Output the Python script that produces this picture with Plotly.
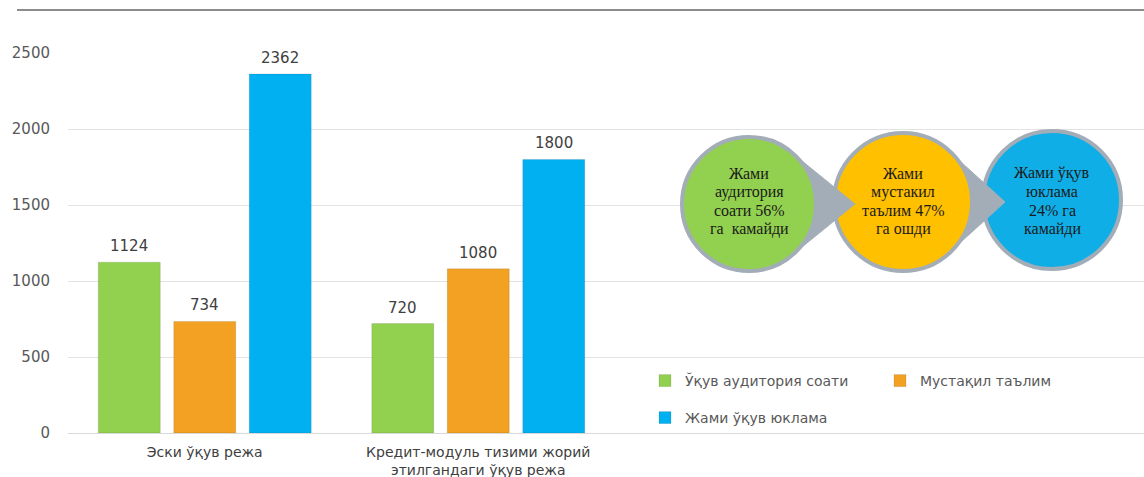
import math
import plotly.graph_objects as go

categories = ["Эски ўқув режа", "Кредит-модуль тизими жорий<br>этилгандаги ўқув режа", " ", "  "]
series_names = ["Ўқув аудитория соати", "Мустақил таълим", "Жами ўқув юклама"]
auditoria = [1124, 720, None, None]
mustaqil = [734, 1080, None, None]
jami = [2362, 1800, None, None]
colors = ["#92D050", "#F2A122", "#00B0F0"]
legend_ids = ["legend", "legend", "legend2"]
circle_lines = [["Жами", "аудитория", "соати 56%", "га  камайди"],
                ["Жами", "мустакил", "таълим 47%", "га ошди"],
                ["Жами ўқув", "юклама", "24% га", "камайди"]]
circle_colors = ["#92D050", "#FFC000", "#10AEE6"]

FONT = "DejaVu Sans, Liberation Sans, Arial"
W, H = 1144, 477
ml, mr, mt, mb = 68, 0, 53, 44
slot_px = 75.5

fig = go.Figure()
annotations = []
for k, (name, vals, c, lg) in enumerate(zip(series_names, [auditoria, mustaqil, jami], colors, legend_ids)):
    fig.add_trace(go.Bar(
        x=categories, y=vals, name=name, legend=lg,
        marker=dict(color=c, line=dict(color="rgba(0,0,0,0.10)", width=1)),
    ))
    for cat, v in zip(categories, vals):
        if v is None:
            continue
        annotations.append(dict(x=cat, y=v, xref="x", yref="y", text=str(v), showarrow=False,
                                xshift=(k - 1) * slot_px, yshift=16, yanchor="middle",
                                font=dict(size=15, color="#404040", family=FONT)))


def px(x):
    return (x - ml) / (W - ml - mr)


def py(y):
    return (H - mb - y) / (H - mt - mb)


shapes = [dict(type="line", xref="paper", yref="paper", x0=px(17), x1=px(1144),
               y0=py(10), y1=py(10), line=dict(color="#8C8C8C", width=2))]
centers = [(749, 204), (903, 202), (1052, 200)]
radii = [67, 69, 69]
tip_dist = [106, 102, 100]
gray = "#A3ADB8"
circ_shapes = []
tail_shapes = []
for (cx, cy), r, d, col in zip(centers, radii, tip_dist, circle_colors):
    circ_shapes.append(dict(type="circle", xref="paper", yref="paper",
                            x0=px(cx - r), x1=px(cx + r), y0=py(cy + r), y1=py(cy - r),
                            fillcolor=col, line=dict(color=gray, width=4), layer="above"))
    th = math.acos(r / d)
    tx, ty = cx + r * math.cos(th), r * math.sin(th)
    tail_shapes.append(dict(type="path", xref="paper", yref="paper",
                            path=f"M {px(tx-4)},{py(cy-ty-3)} L {px(cx+d)},{py(cy)} L {px(tx-4)},{py(cy+ty+3)} Z",
                            fillcolor=gray, line=dict(color=gray, width=1), layer="above"))
shapes += [circ_shapes[2], tail_shapes[1], circ_shapes[1], tail_shapes[0], circ_shapes[0]]

line_step = 18.5
for (cx, cy), lines in zip(centers, circle_lines):
    n = len(lines)
    for i, ln in enumerate(lines):
        yy = 201 + (i - (n - 1) / 2) * line_step
        annotations.append(dict(xref="paper", yref="paper", x=px(cx), y=py(yy), text=ln,
                                showarrow=False, xanchor="center", yanchor="middle",
                                font=dict(family="Liberation Serif, Times New Roman", size=16, color="#1A1A1A")))

leg_common = dict(orientation="h", xanchor="left", yanchor="middle",
                  entrywidth=190, entrywidthmode="pixels", bgcolor="rgba(0,0,0,0)",
                  font=dict(size=14, color="#595959", family=FONT), itemwidth=30)

fig.update_layout(
    width=W, height=H,
    margin=dict(l=ml, r=mr, t=mt, b=mb),
    paper_bgcolor="white", plot_bgcolor="white",
    barmode="group", bargap=0.172, bargroupgap=0.179,
    font=dict(family=FONT, size=14, color="#595959"),
    xaxis=dict(range=[-0.5, 3.434], showline=True, linecolor="#D9D9D9", linewidth=1,
               ticks="", ticklabelstandoff=6, tickfont=dict(size=14, color="#404040", family=FONT)),
    yaxis=dict(range=[0, 2500], dtick=500, showgrid=True, gridcolor="#E3E3E3",
               zeroline=False, ticks="outside", ticklen=14, tickcolor="rgba(0,0,0,0)",
               tickfont=dict(size=15, color="#595959", family=FONT)),
    legend=dict(x=px(645), y=py(381), **leg_common),
    legend2=dict(x=px(645), y=py(418), **leg_common),
    shapes=shapes,
    annotations=annotations,
)
fig.write_html("out.html", config={"displayModeBar": False},
               post_script="document.body.style.margin='0px';")
